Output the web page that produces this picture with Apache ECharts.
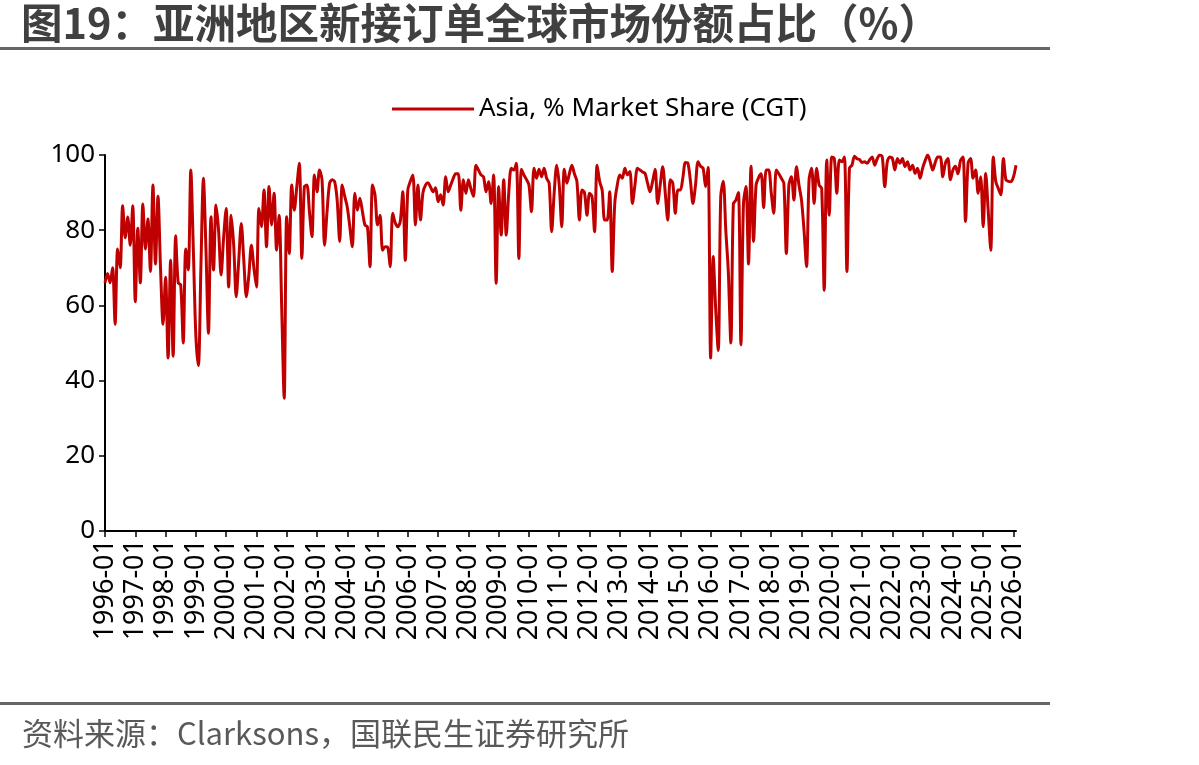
<!DOCTYPE html>
<html lang="zh">
<head>
<meta charset="UTF-8">
<script src="https://cdn.jsdelivr.net/npm/echarts@6/dist/echarts.min.js"></script>
<title>亚洲地区新接订单全球市场份额占比</title>
<style>
  html, body { margin: 0; padding: 0; background: #fff; }
  #chart { width: 1199px; height: 765px; }
</style>
</head>
<body>
<div id="chart"></div>
<script>
// monthly Asia share of new orders (% of CGT), 1996-01 .. 2026-02
const share1996to2005 = [
  66, 68.5, 66, 70, 55, 75, 70, 86.5, 78, 83.5, 76, 86.5,
  61, 80.5, 66, 87, 75, 83, 69, 92, 71, 89, 70, 55,
  67.5, 46, 72, 46.5, 78.5, 66, 65.5, 50, 75, 69.5, 96, 75,
  52, 44, 70, 93.8, 75, 52.6, 83.6, 69.4, 86.7, 80, 68.1, 78,
  85.8, 64.9, 84, 76, 62.3, 72, 81.8, 72, 62.3, 68, 76, 70,
  64.9, 85.8, 80.9, 90.7, 75.6, 91.6, 81.4, 89.8, 74.7, 84, 60, 35.3,
  83.6, 73.8, 92, 85.3, 91.6, 97.8, 72.5, 91.6, 92, 85, 78.3, 94.7,
  90.2, 96, 93.4, 76, 85, 92.5, 93.4, 92.9, 88, 77, 92, 89,
  86.2, 81, 75.6, 89.8, 85.3, 88.5, 85, 81.4, 80.9, 70.3, 92, 89.4,
  81.4, 84, 74.7, 75.6, 75.5, 70.3, 84.5, 82, 80.9, 82.3, 90.2, 72
];
const share2006to2015 = [
  90.7, 93, 94.7, 81.4, 92, 82.7, 90, 92, 92.6, 91.5, 90.2, 91.3,
  87.6, 89.4, 86.7, 94.2, 90.2, 92, 93.8, 95, 95, 85.3, 93.4, 89.8,
  93.4, 91, 89, 97.3, 96, 94.7, 94.2, 90.2, 92.9, 87.1, 94.7, 65.9,
  91.6, 78.7, 93.4, 78.7, 90, 96.5, 96, 97.8, 72.5, 96.2, 94.7, 93.5,
  92, 84.9, 96.5, 93.8, 96.2, 94.2, 96.5, 93.8, 92.5, 79.6, 90, 97.3,
  92, 80.9, 96.2, 92.5, 95, 97.3, 95, 93, 82.7, 90.7, 90, 84,
  89.8, 88.9, 79.6, 97.3, 93, 90.7, 82.7, 82.7, 90.2, 69, 87.1, 92,
  94.7, 93.8, 96.5, 94.7, 95.6, 87.1, 92, 96.5, 96, 95.5, 95.1, 92.5,
  90.2, 93, 96.2, 87.1, 92, 96.9, 90, 82.7, 93.4, 92.5, 84.5, 90.7,
  90.7, 94, 98, 97.8, 93, 87.1, 92, 98.2, 97, 96.5, 91.6, 96.7
];
const share2016to2026 = [
  46, 73, 59, 48, 89, 93, 80, 69, 50, 87, 88, 90,
  49.5, 87, 91.6, 71, 97, 77, 92, 94, 95, 86, 96, 96,
  90, 84.5, 96, 95, 93.8, 92.5, 73.8, 92, 94.2, 88, 96.9, 92,
  88, 80, 70.3, 93.4, 96.5, 87.1, 96.5, 92, 91.1, 64, 98.7, 84,
  99.5, 99.1, 89.8, 98.7, 98.2, 99.5, 69, 96.5, 97.3, 99.7, 99, 98.8,
  98, 98.2, 97.8, 98.7, 99.5, 97.3, 99, 100, 99.5, 91.6, 98.2, 99.5,
  99.1, 96, 99.1, 97.8, 99.1, 96.9, 98.2, 96, 97.3, 95.1, 96.5, 93.8,
  96.5, 98.5, 100, 98.2, 96, 98, 99.5, 99.5, 94.2, 97.8, 99.1, 93.4,
  96, 97, 95, 98.5, 99.5, 82.3, 97.8, 99.1, 93.8, 96, 89.8, 94.2,
  80.9, 95.1, 85, 74.7, 99.5, 92.9, 91.1, 89.4, 99.1, 93.4, 93, 92.9,
  94.2, 97.3
];
const asiaShare = share1996to2005.concat(share2006to2015, share2016to2026);

const startYear = 1996;
const months = asiaShare.map((v, i) => {
  const y = startYear + Math.floor(i / 12);
  const m = (i % 12) + 1;
  return y + '-' + (m < 10 ? '0' + m : m);
});
const yTicks = [0, 20, 40, 60, 80, 100];

const titleText = '图19：亚洲地区新接订单全球市场份额占比（%）';
const sourceText = '资料来源：Clarksons，国联民生证券研究所';
const seriesName = 'Asia, % Market Share (CGT)';

const chart = echarts.init(document.getElementById('chart'));

const option = {
  backgroundColor: '#fff',
  animation: false,
  textStyle: { fontFamily: '"Noto Sans", "Noto Sans CJK SC", sans-serif' },
  graphic: [
    {
      type: 'text', left: 21, top: 2,
      style: { text: titleText, fontSize: 41.5, fontWeight: 'bold', fill: '#404040',
               fontFamily: '"Noto Sans CJK SC", sans-serif' }
    },
    { type: 'rect', shape: { x: 0, y: 47, width: 1050, height: 3 }, style: { fill: '#666' } },
    { type: 'rect', shape: { x: 0, y: 702, width: 1050, height: 3 }, style: { fill: '#666' } },
    {
      type: 'text', left: 22, top: 718,
      style: { text: sourceText, fontSize: 31, fill: '#595959',
               fontFamily: '"Noto Sans CJK SC", sans-serif' }
    }
  ],
  legend: {
    data: [seriesName],
    left: 387, top: 91,
    icon: 'rect',
    itemWidth: 82, itemHeight: 3,
    textStyle: { fontSize: 26, color: '#000' }
  },
  grid: { left: 105, right: 183, top: 155, bottom: 234 },
  xAxis: {
    type: 'category',
    data: months,
    boundaryGap: false,
    axisLine: { lineStyle: { color: '#000', width: 2 } },
    axisTick: { interval: 11, length: 6, lineStyle: { color: '#000', width: 1.5 } },
    axisLabel: { interval: 11, rotate: 90, fontSize: 27, color: '#000', margin: 8 },
    splitLine: { show: false }
  },
  yAxis: {
    type: 'value',
    min: yTicks[0], max: yTicks[yTicks.length - 1], interval: 20,
    axisLine: { show: true, lineStyle: { color: '#000', width: 2 } },
    axisTick: { show: true, length: 6, lineStyle: { color: '#000', width: 1.5 } },
    axisLabel: { fontSize: 26, color: '#000', margin: 10 },
    splitLine: { show: false }
  },
  series: [{
    name: seriesName,
    type: 'line',
    data: asiaShare,
    smooth: 0.3,
    symbol: 'none',
    lineStyle: { color: '#C00000', width: 3 },
    itemStyle: { color: '#C00000' }
  }]
};

chart.setOption(option);
</script>
</body>
</html>
